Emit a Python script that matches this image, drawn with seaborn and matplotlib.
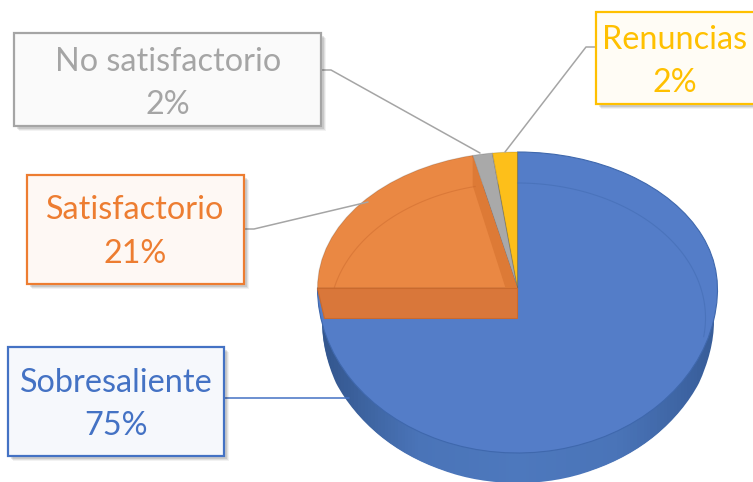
"""3D-looking pie of performance ratings with callout labels."""

import matplotlib
matplotlib.use("Agg")
import matplotlib.pyplot as plt
import numpy as np
import seaborn as sns
from matplotlib.colors import LinearSegmentedColormap
from matplotlib.patches import Rectangle

categories = ["Sobresaliente", "Satisfactorio", "No satisfactorio", "Renuncias"]
shares = [75, 21.4, 1.6, 2.0]
top_colors = ["#547dc8", "#ea8843", "#a9a9a9", "#fdbf1a"]
label_colors = ["#4472c4", "#ed7d31", "#a5a5a5", "#ffc000"]
box_fills = ["#f6f8fc", "#fef8f4", "#fafafa", "#fffcf5"]

W, H = 753, 482
CX, CY = 517.5, 288          # apex of the slices, in pixels
RX, RY_UP, RY_DOWN = 200, 136, 165
DEPTH = 30


def forward(y):
    y = np.asarray(y, dtype=float)
    return np.where(y > 0, y * RY_UP, y * RY_DOWN)


def inverse(v):
    v = np.asarray(v, dtype=float)
    return np.where(v > 0, v / RY_UP, v / RY_DOWN)


def rim(angle):
    """Pixel position of a point on the top face rim, angle in degrees."""
    t = np.radians(angle)
    ry = RY_UP if np.sin(t) > 0 else RY_DOWN
    return CX + RX * np.cos(t), CY - ry * np.sin(t)


def draw_pie(ax):
    ax.set_yscale("function", functions=(forward, inverse))

    # side wall, shaded towards the edges
    wall, _ = ax.pie([1], center=(0, -0.2), radius=0.98, colors=["#4a74b8"], frame=False)
    cmap = LinearSegmentedColormap.from_list(
        "wall", ["#32558c", "#4a74b8", "#4d78bd", "#4a74b8", "#375c98"]
    )
    xs = np.linspace(-1, 1, 120)
    mesh = ax.pcolormesh(
        xs, [-1.4, 0.5], np.tile(np.linspace(0, 1, 119), (1, 1)), cmap=cmap, shading="flat"
    )
    mesh.set_clip_path(wall[0])

    wedges, _ = ax.pie(
        shares, colors=top_colors, startangle=90, counterclock=False, frame=False,
        wedgeprops={"linewidth": 0.8, "edgecolor": "#00000022"},
    )
    wedges[0].set_edgecolor("#3f68ad")

    ax.set_aspect("auto")
    ax.set_xlim(-CX / RX, (W - CX) / RX)
    ax.set_ylim(-(H - CY) / RY_DOWN, CY / RY_UP)
    ax.set_axis_off()


def draw_faces(ov):
    """Inner walls of the orange slice and the faint inner rim, pixel coordinates."""
    end_angle = 180 - shares[1] / 100 * 360
    ex, ey = rim(end_angle)
    ov.fill([ex, CX, CX - 12, ex], [ey, CY, CY, ey + 30], color="#dd7a36", lw=0)
    ov.fill([CX - RX, CX, CX, CX - RX + 7], [CY, CY, CY + DEPTH, CY + DEPTH],
            color="#d9773a", lw=0.8, ec="#c96a2e")

    for start, stop, col in [(end_angle, 167, "#c9672c"), (-8, 90, "#3f68ad")]:
        t = np.radians(np.linspace(start, stop, 80))
        ov.plot(CX + 188 * np.cos(t), CY + DEPTH - 135 * np.sin(t), color=col, lw=0.8, alpha=0.45)


def draw_callout(ov, i, box, text_x, text_ys, leader):
    x0, y0, x1, y1 = box
    ov.plot(*zip(*leader), color="#4472c4" if i == 0 else "#a5a5a5", lw=1.1, zorder=1)
    for off, alpha in [(5, 0.05), (4, 0.07), (3, 0.1)]:
        ov.add_patch(Rectangle((x0 + off, y0 + off), x1 - x0, y1 - y0,
                               color="#000000", alpha=alpha, lw=0, zorder=2))
    ov.add_patch(Rectangle((x0, y0), x1 - x0, y1 - y0, fc=box_fills[i],
                           ec=label_colors[i], lw=1.6, zorder=3, clip_on=True))
    pct = f"{shares[i]:.0f}%"
    ov.text(text_x, text_ys[0], categories[i], color=label_colors[i], fontsize=23.3,
            ha="center", va="center", zorder=4)
    ov.text(text_x, text_ys[1], pct, color=label_colors[i], fontsize=23.3,
            ha="center", va="center", zorder=4)


def main():
    sns.set_theme(style="white")
    plt.rcParams["font.family"] = ["Lato", "DejaVu Sans"]

    fig = plt.figure(figsize=(W / 100, H / 100), dpi=100)
    ax = fig.add_axes([0, 0, 1, 1])
    draw_pie(ax)

    ov = fig.add_axes([0, 0, 1, 1], zorder=2)
    ov.set_xlim(0, W)
    ov.set_ylim(H, 0)
    ov.patch.set_alpha(0)
    ov.set_axis_off()
    draw_faces(ov)

    draw_callout(ov, 0, (8, 347, 224, 456), 116, (383, 426),
                 [(224, 398), (349, 398)])
    draw_callout(ov, 1, (27, 175, 244, 284), 135, (210, 254),
                 [(244, 229), (254, 229), (368, 202)])
    draw_callout(ov, 2, (14, 33, 321, 126), 168, (62, 105),
                 [(321, 70), (331, 70), (480, 153)])
    draw_callout(ov, 3, (596, 12, 770, 104), 675, (40, 83),
                 [(596, 47), (586, 47), (505, 152)])

    fig.savefig("out.png", dpi=100)
    plt.close(fig)


if __name__ == "__main__":
    main()
